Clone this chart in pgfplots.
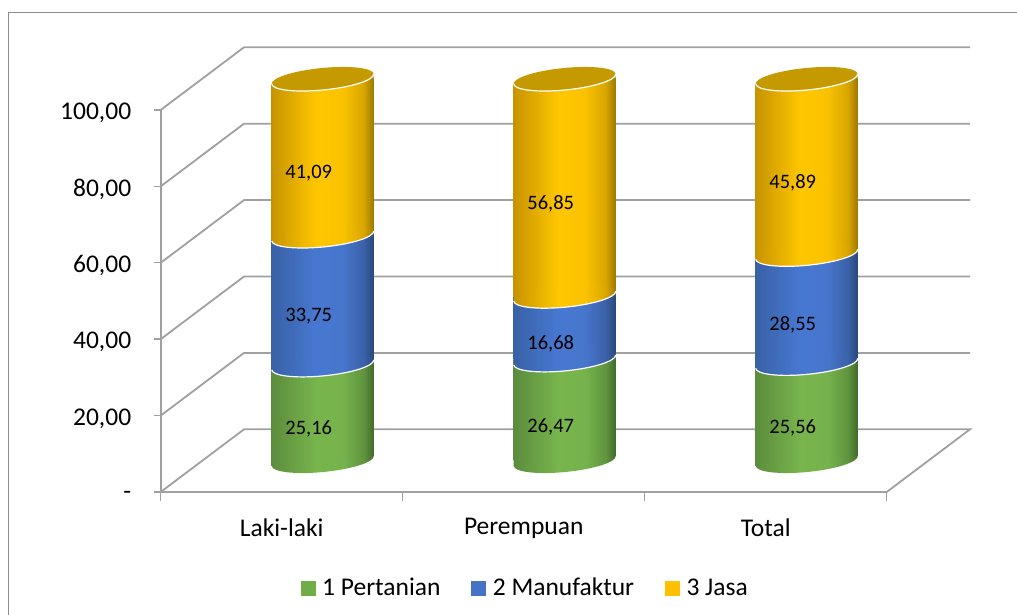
\documentclass[border=0pt]{standalone}
\usepackage{fontspec}
\setmainfont{Carlito}
\usepackage{pgfplots}
\usepackage{pgfplotstable}
\pgfplotsset{compat=1.18}

\definecolor{wallgray}{HTML}{A0A0A0}
\definecolor{framegray}{HTML}{8C8C8C}
\definecolor{leggreen}{HTML}{70AD47}
\definecolor{legblue}{HTML}{4472C4}
\definecolor{leggold}{HTML}{FFC000}
\definecolor{capgold}{HTML}{C49A00}

% cylinder shading, left to right
\pgfdeclarehorizontalshading{cylgreen}{100bp}{
  rgb(0bp)=(0.36,0.55,0.24);
  rgb(25bp)=(0.36,0.55,0.24);
  rgb(47bp)=(0.47,0.71,0.30);
  rgb(60bp)=(0.46,0.70,0.30);
  rgb(70bp)=(0.38,0.58,0.24);
  rgb(75bp)=(0.26,0.42,0.17);
  rgb(100bp)=(0.26,0.42,0.17)}
\pgfdeclarehorizontalshading{cylblue}{100bp}{
  rgb(0bp)=(0.22,0.38,0.65);
  rgb(25bp)=(0.22,0.38,0.65);
  rgb(47bp)=(0.28,0.47,0.82);
  rgb(60bp)=(0.28,0.46,0.80);
  rgb(70bp)=(0.23,0.38,0.66);
  rgb(75bp)=(0.16,0.28,0.48);
  rgb(100bp)=(0.16,0.28,0.48)}
\pgfdeclarehorizontalshading{cylgold}{100bp}{
  rgb(0bp)=(0.78,0.58,0.0);
  rgb(25bp)=(0.78,0.58,0.0);
  rgb(47bp)=(1.0,0.78,0.0);
  rgb(60bp)=(0.98,0.76,0.0);
  rgb(70bp)=(0.85,0.65,0.0);
  rgb(75bp)=(0.62,0.47,0.0);
  rgb(100bp)=(0.62,0.47,0.0)}

% tilted ellipse, given by its two axes
\newcommand{\tiltpath}{\pgfpathellipse{\pgfpointorigin}{\pgfpoint{51pt}{5pt}}{\pgfpoint{-1.07pt}{10.95pt}}}
\newcommand{\tiltshade}[1]{\begin{pgfscope}\tiltpath\pgfshadepath{#1}{0}\pgfusepath{discard}\end{pgfscope}}
\newcommand{\tiltrim}{\begin{pgfscope}\pgfsetstrokecolor{white}\pgfsetlinewidth{1.2pt}%
  \pgfpathmoveto{\pgfpoint{-51pt}{-5pt}}%
  \pgfpatharcaxes{180}{360}{\pgfpoint{51pt}{5pt}}{\pgfpoint{-1.07pt}{10.95pt}}%
  \pgfusepath{stroke}\end{pgfscope}}

% where a lower colour meets an upper colour
\newcommand{\ring}[2]{%
  \path[draw=none,shading=#1] (-51pt,-16pt)--(-51pt,-5pt)--(51pt,5pt)--(51pt,-16pt)--cycle;
  \path[draw=none,shading=#2] (-51pt,-5pt)--(51pt,5pt)--(51pt,16pt)--(-51pt,16pt)--cycle;
  \tiltshade{#2}\tiltrim
}
\pgfdeclareplotmark{ringgb}{\ring{cylgreen}{cylblue}}
\pgfdeclareplotmark{ringbo}{\ring{cylblue}{cylgold}}
\pgfdeclareplotmark{cylbase}{%
  \path[draw=none,fill=white] (-52pt,-18pt)--(-52pt,-5pt)--(52pt,5pt)--(52pt,-18pt)--cycle;
  \tiltshade{cylgreen}
  \path[draw=none,shading=cylgreen] (-51pt,-5pt)--(51pt,5pt)--(51pt,16pt)--(-51pt,16pt)--cycle;
}
\pgfdeclareplotmark{cyltop}{%
  \path[draw=none,fill=white] (-52pt,18pt)--(-52pt,-5pt)--(52pt,5pt)--(52pt,18pt)--cycle;
  \path[draw=none,shading=cylgold] (-51pt,-16pt)--(-51pt,-5pt)--(51pt,5pt)--(51pt,-16pt)--cycle;
  \begin{pgfscope}\pgfsetfillcolor{capgold}\tiltpath\pgfusepath{fill}\end{pgfscope}
  \tiltrim
}

\pgfplotstableread{
x   pert  manu  jasa  cuma   cumb   cumc  zero mida   midb   midc   laba  labb  labc
0.5 25.16 33.75 41.09 25.16  58.91  100   0    12.58  42.035 79.455 25,16 33,75 41,09
1.5 26.47 16.68 56.85 26.47  43.15  100   0    13.235 34.81  71.575 26,47 16,68 56,85
2.5 25.56 28.55 45.89 25.56  54.11  100   0    12.78  39.835 77.055 25,56 28,55 45,89
}\cyldata

\pgfplotsset{
  plane/.style={
    scale only axis, width=809.3pt, height=444.7pt,
    xmin=0, xmax=3.3442, ymin=0, ymax=116.41,
    clip=false, anchor=south west,
  },
  wall/.style={draw=wallgray, line width=1.8pt, no markers},
}

\begin{document}
\begin{tikzpicture}[x=1pt,y=1pt]
\useasboundingbox (0,0) rectangle (1017,615);
\draw[framegray,line width=1.2pt] (8.5,0)--(8.5,602.5)--(1017,602.5);

% walls, floor and tick labels
\begin{axis}[plane, at={(160.7pt,123pt)},
  axis x line*=bottom, axis y line*=left,
  axis line style={draw=none},
  xtick={0.5,1.5,2.5},
  xticklabels={Laki-laki,Perempuan,Total},
  minor xtick={0,1,2,3},
  ytick={0,20,40,60,80,100},
  yticklabels={-,{20,00},{40,00},{60,00},{80,00},{100,00}},
  tick align=outside,
  major tick length=7pt, minor tick length=9pt,
  xtick style={draw=none},
  minor x tick style={draw=wallgray,line width=1.4pt},
  ytick style={draw=wallgray,line width=1.4pt},
  tick label style={font=\fontsize{25.5}{30}\selectfont},
  yticklabel style={xshift=-19pt,yshift=-3pt},
  xticklabel style={yshift=-16pt},
]
\addplot[wall] coordinates {(0,0)(0,100)};
\addplot[wall] coordinates {(0,0)(3,0)(3.3442,16.41)(0.3442,16.41)(0,0)};
\addplot[wall] coordinates {(0,20)(0.3442,36.41)(3.3442,36.41)};
\addplot[wall] coordinates {(0,40)(0.3442,56.41)(3.3442,56.41)};
\addplot[wall] coordinates {(0,60)(0.3442,76.41)(3.3442,76.41)};
\addplot[wall] coordinates {(0,80)(0.3442,96.41)(3.3442,96.41)};
\addplot[wall] coordinates {(0,100)(0.3442,116.41)(3.3442,116.41)};
\end{axis}

% stacked bars, half way back in the depth, one axis per cylinder so the
% shading fits each bar
\foreach \lo/\hi in {0/1,1/2,2/3}{
\begin{axis}[plane, at={(201.7pt,154pt)}, hide axis,
  ybar stacked, bar width=102pt,
  restrict x to domain=\lo:\hi,
]
\addplot[draw=none,shading=cylgreen] table[x=x,y=pert] {\cyldata};
\addplot[draw=none,shading=cylblue] table[x=x,y=manu] {\cyldata};
\addplot[draw=none,shading=cylgold] table[x=x,y=jasa] {\cyldata};
\end{axis}
}

% curved rims, value labels, legend
\begin{axis}[plane, at={(201.7pt,154pt)}, hide axis,
  nodes near coords style={font=\fontsize{20.5}{24}\selectfont,text=black,
    anchor=center,xshift=-14pt,yshift=-16pt},
  legend columns=3,
  legend style={at={(0.1185,-0.254)}, anchor=north west, draw=none, fill=none,
    font=\fontsize{25.5}{30}\selectfont,
    /tikz/every even column/.append style={column sep=29pt}},
]
\addplot[only marks,mark=cylbase,forget plot] table[x=x,y=zero] {\cyldata};
\addplot[only marks,mark=ringgb,forget plot] table[x=x,y=cuma] {\cyldata};
\addplot[only marks,mark=ringbo,forget plot] table[x=x,y=cumb] {\cyldata};
\addplot[only marks,mark=cyltop,forget plot] table[x=x,y=cumc] {\cyldata};
\addplot[draw=none,mark=none,nodes near coords,point meta=explicit symbolic,forget plot]
  table[x=x,y=mida,meta=laba] {\cyldata};
\addplot[draw=none,mark=none,nodes near coords,point meta=explicit symbolic,forget plot]
  table[x=x,y=midb,meta=labb] {\cyldata};
\addplot[draw=none,mark=none,nodes near coords,point meta=explicit symbolic,forget plot]
  table[x=x,y=midc,meta=labc] {\cyldata};
\addlegendimage{legend image code/.code={\fill[leggreen] (0pt,-7pt) rectangle (14pt,7pt); \path (19pt,0pt);}}
\addlegendentry{1 Pertanian}
\addlegendimage{legend image code/.code={\fill[legblue] (0pt,-7pt) rectangle (14pt,7pt); \path (19pt,0pt);}}
\addlegendentry{2 Manufaktur}
\addlegendimage{legend image code/.code={\fill[leggold] (0pt,-7pt) rectangle (14pt,7pt); \path (19pt,0pt);}}
\addlegendentry{3 Jasa}
\end{axis}
\end{tikzpicture}
\end{document}
